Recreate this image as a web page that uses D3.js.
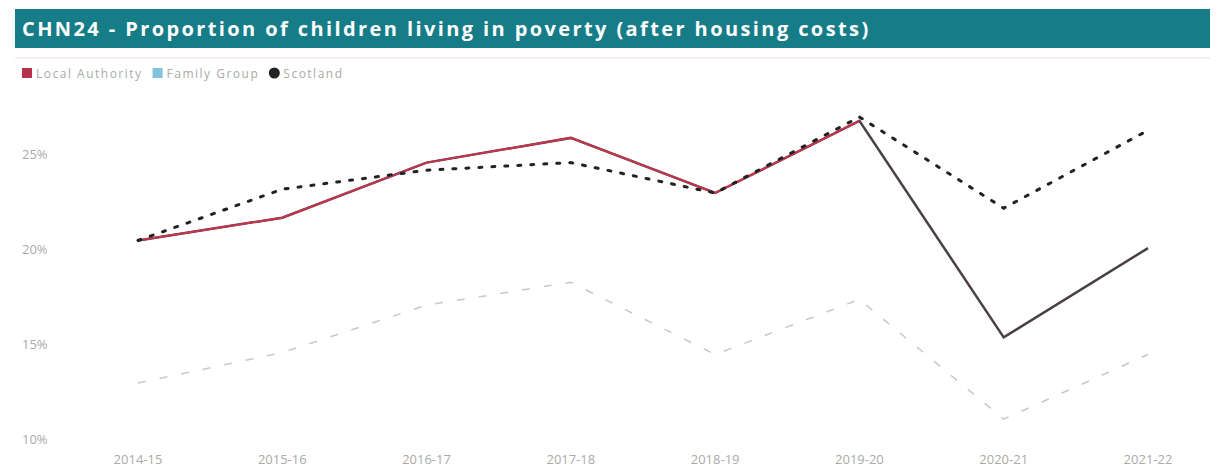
<!DOCTYPE html>
<html>
<head>
<meta charset="utf-8">
<script src="https://cdn.jsdelivr.net/npm/d3@7"></script>
<style>
  body { margin: 0; background: #fff; font-family: "Open Sans", "Liberation Sans", sans-serif; }
</style>
</head>
<body>
<svg id="chart"></svg>
<script>
const width = 1217;
const height = 468;

const years = ["2014-15", "2015-16", "2016-17", "2017-18", "2018-19", "2019-20", "2020-21", "2021-22"];
const localAuthority = [20.5, 21.7, 24.6, 25.9, 23.0, 26.8, 15.4, 20.1];
const scotland = [20.5, 23.2, 24.2, 24.6, 23.0, 27.0, 22.2, 26.3];
const familyGroup = [13.0, 14.6, 17.1, 18.3, 14.5, 17.4, 11.1, 14.5];
const yTicks = [10, 15, 20, 25];

const title = "CHN24 - Proportion of children living in poverty (after housing costs)";
const legendItems = [
  { name: "Local Authority", color: "#b5334a", shape: "square" },
  { name: "Family Group", color: "#7fc3dc", shape: "square" },
  { name: "Scotland", color: "#222", shape: "circle" }
];

const svg = d3.select("#chart")
  .attr("width", width)
  .attr("height", height);

// title bar
svg.append("rect")
  .attr("x", 15).attr("y", 9)
  .attr("width", 1195).attr("height", 39)
  .attr("fill", "#157c88");
svg.append("text")
  .attr("x", 22).attr("y", 36)
  .attr("fill", "#fff")
  .attr("font-size", 20)
  .attr("font-weight", "bold")
  .attr("letter-spacing", 2.4)
  .text(title);

svg.append("line")
  .attr("x1", 15).attr("x2", 1210)
  .attr("y1", 58).attr("y2", 58)
  .attr("stroke", "#f6dada");

// legend
let lx = 22;
legendItems.forEach(item => {
  if (item.shape === "square") {
    svg.append("rect").attr("x", lx).attr("y", 68).attr("width", 10).attr("height", 10).attr("fill", item.color);
  } else {
    svg.append("circle").attr("cx", lx + 5).attr("cy", 73).attr("r", 5.5).attr("fill", item.color);
  }
  const t = svg.append("text")
    .attr("x", lx + 14).attr("y", 78)
    .attr("font-size", 12)
    .attr("letter-spacing", 1.5)
    .attr("fill", "#aaa")
    .text(item.name);
  lx += 14 + t.node().getComputedTextLength() + 10;
});

const x = d3.scalePoint()
  .domain(years)
  .range([138, 1148]);

const y = d3.scaleLinear()
  .domain([10, 25])
  .range([440, 155]);

// y labels
svg.append("g")
  .selectAll("text")
  .data(yTicks)
  .join("text")
  .attr("x", 22)
  .attr("y", d => y(d) + 4)
  .attr("font-size", 13)
  .attr("fill", "#aaa")
  .text(d => d + "%");

// x labels
svg.append("g")
  .selectAll("text")
  .data(years)
  .join("text")
  .attr("x", d => x(d))
  .attr("y", 464)
  .attr("text-anchor", "middle")
  .attr("font-size", 13)
  .attr("fill", "#aaa")
  .text(d => d);

const line = d3.line()
  .x((d, i) => x(years[i]))
  .y(d => y(d));

// family group (faint dashed)
svg.append("path")
  .datum(familyGroup)
  .attr("fill", "none")
  .attr("stroke", "#c8c8c8")
  .attr("stroke-width", 1.5)
  .attr("stroke-dasharray", "8,14")
  .attr("d", line);

// local authority
svg.append("path")
  .datum(localAuthority)
  .attr("fill", "none")
  .attr("stroke", "#4a4040")
  .attr("stroke-width", 2.5)
  .attr("d", line);
svg.append("path")
  .datum(localAuthority.slice(0, 6))
  .attr("fill", "none")
  .attr("stroke", "#c8334f")
  .attr("stroke-width", 2)
  .attr("d", line);

// scotland dotted
svg.append("path")
  .datum(scotland)
  .attr("fill", "none")
  .attr("stroke", "#222")
  .attr("stroke-width", 3)
  .attr("stroke-linecap", "round")
  .attr("stroke-dasharray", "3,10")
  .attr("d", line);
</script>
</body>
</html>
